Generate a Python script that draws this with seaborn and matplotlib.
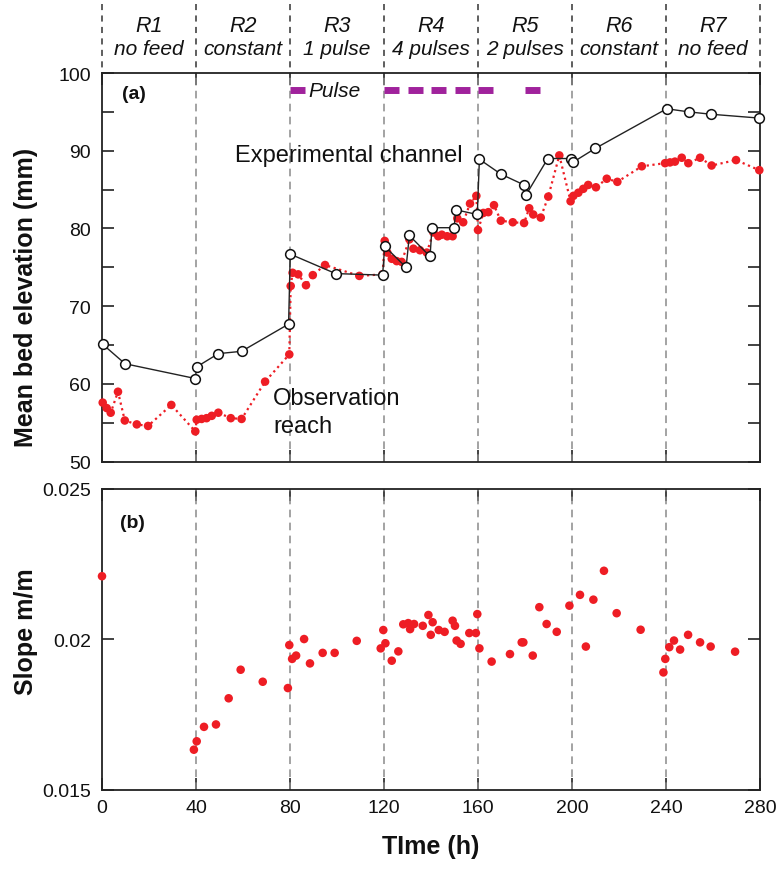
import matplotlib
matplotlib.use("Agg")
import matplotlib.pyplot as plt
from matplotlib import font_manager
import seaborn as sns
import numpy as np

# ---------------- data ----------------
run_bounds = [0, 40, 80, 120, 160, 200, 240, 280]
run_names = ["R1", "R2", "R3", "R4", "R5", "R6", "R7"]
run_feed = ["no feed", "constant", "1 pulse", "4 pulses", "2 pulses", "constant", "no feed"]

pulse_start = [80, 120, 130, 140, 150, 160, 180]
pulse_length = 6.5
pulse_level = 97.8

exp_t = [0.3, 9.8, 39.7, 40.3, 49.5, 59.4, 79.4, 80.1, 99.4, 119.4,
         120.3, 129.4, 130.8, 139.6, 140.4, 149.8, 150.6, 159.7, 160.6, 169.7,
         179.6, 180.4, 189.7, 199.4, 200.3, 209.9, 240.3, 249.7, 259.0, 279.7]
exp_z = [65.1, 62.6, 60.7, 62.2, 63.9, 64.2, 67.7, 76.7, 74.2, 74.0,
         77.7, 75.0, 79.1, 76.4, 80.1, 80.1, 82.4, 81.8, 88.9, 87.0,
         85.6, 84.3, 89.0, 89.0, 88.5, 90.3, 95.4, 95.0, 94.7, 94.2]

obs_t = [0.3, 2.0, 3.7, 6.8, 9.7, 14.8, 19.6, 29.5, 39.7, 40.3,
         42.4, 44.5, 46.7, 49.5, 54.8, 59.4, 69.4, 79.7, 80.3, 81.1,
         83.5, 86.8, 89.7, 94.9, 109.5, 119.4, 120.3, 121.4, 123.3, 125.4,
         127.5, 130.8, 132.5, 135.3, 138.2, 141.0, 143.1, 144.6, 146.9, 149.2,
         151.2, 153.7, 156.6, 159.3, 160.0, 162.3, 164.4, 166.8, 169.7, 174.8,
         179.6, 181.8, 183.5, 186.7, 189.9, 194.6, 199.4, 200.6, 202.7, 204.8,
         206.9, 210.2, 214.8, 219.3, 229.7, 239.6, 241.7, 243.8, 246.7, 249.5,
         254.5, 259.4, 269.8, 279.7]
obs_z = [57.6, 56.9, 56.3, 59.0, 55.3, 54.8, 54.6, 57.3, 53.9, 55.4,
         55.5, 55.6, 55.9, 56.3, 55.6, 55.5, 60.3, 63.8, 72.6, 74.3,
         74.1, 72.7, 74.0, 75.3, 73.9, 74.1, 78.4, 76.9, 76.1, 75.8,
         75.7, 78.6, 77.4, 77.2, 76.9, 79.5, 79.0, 79.2, 79.0, 79.0,
         81.3, 80.8, 83.2, 84.2, 79.8, 82.0, 82.1, 83.0, 81.0, 80.8,
         80.7, 82.6, 81.8, 81.4, 84.1, 89.4, 83.5, 84.2, 84.6, 85.1,
         85.6, 85.3, 86.4, 86.0, 88.0, 88.4, 88.5, 88.6, 89.1, 88.4,
         89.1, 88.1, 88.8, 87.5]

slope_t = [0, 39.1, 40.3, 43.4, 48.5, 53.9, 59.0, 68.4, 79.1, 79.7,
           80.9, 82.6, 86.0, 88.5, 93.9, 99.0, 108.4, 118.6, 119.7, 120.6,
           123.3, 126.1, 128.2, 130.3, 131.1, 132.8, 136.5, 138.9, 139.9, 140.7,
           143.3, 145.8, 149.2, 150.2, 150.9, 152.6, 156.3, 159.1, 159.7, 160.6,
           165.8, 173.6, 178.6, 179.3, 183.3, 186.1, 189.2, 193.5, 198.9, 203.4,
           205.9, 209.1, 213.6, 219.0, 229.2, 238.9, 239.7, 241.4, 243.4, 246.0,
           249.4, 254.5, 259.0, 269.4]
slope = [0.0221, 0.01633, 0.01661, 0.01709, 0.01717, 0.01804, 0.01899, 0.01859, 0.01838, 0.01981,
         0.01935, 0.01946, 0.02001, 0.0192, 0.01955, 0.01955, 0.01995, 0.0197, 0.02031, 0.01987,
         0.01929, 0.0196, 0.0205, 0.02054, 0.02034, 0.02051, 0.02045, 0.02081, 0.02015, 0.02057,
         0.02031, 0.02025, 0.02062, 0.02045, 0.01996, 0.01985, 0.02021, 0.02021, 0.02084, 0.0197,
         0.01926, 0.01951, 0.0199, 0.0199, 0.01946, 0.02107, 0.02051, 0.02025, 0.02112, 0.02148,
         0.01976, 0.02132, 0.02228, 0.02087, 0.02032, 0.0189, 0.01935, 0.01974, 0.01996, 0.01966,
         0.02015, 0.0199, 0.01976, 0.01959]

elev_ticks = [50, 60, 70, 80, 90, 100]
slope_ticks = [0.015, 0.02, 0.025]
slope_ticklabels = ["0.015", "0.02", "0.025"]
time_ticks = [0, 40, 80, 120, 160, 200, 240, 280]

# ---------------- style ----------------
sns.set_theme(style="ticks")
names = {f.name for f in font_manager.fontManager.ttflist}
narrow = "Liberation Sans Narrow" if "Liberation Sans Narrow" in names else "Liberation Sans"
plt.rcParams["font.family"] = ["Liberation Sans", "DejaVu Sans"]
plt.rcParams["axes.linewidth"] = 1.3
plt.rcParams["axes.edgecolor"] = "#222222"

RED = "#ee1d24"
MAG = "#a0229c"
GRAY = "#8a8a8a"
TXT = "#111111"

W, H = 777, 870
fig = plt.figure(figsize=(W / 100, H / 100), dpi=100)

def frac_rect(left, top, right, bottom):
    return [left / W, 1 - bottom / H, (right - left) / W, (bottom - top) / H]

L, R = 102, 760
ax_hdr = fig.add_axes(frac_rect(L, 0, R, 74), zorder=0)
ax1 = fig.add_axes(frac_rect(L, 74, R, 462.7), zorder=2)
ax2 = fig.add_axes(frac_rect(L, 490, R, 790.7), zorder=2)

# ---------------- header ----------------
ax_hdr.set_xlim(0, 280)
ax_hdr.set_ylim(74, 0)
ax_hdr.axis("off")
ax_hdr.patch.set_alpha(0)
for b in run_bounds:
    ax_hdr.plot([b, b], [5, 74], color="#333333", lw=1.1, ls=(0, (4, 3.5)), clip_on=False)
for i, (nm, fd) in enumerate(zip(run_names, run_feed)):
    xc = 0.5 * (run_bounds[i] + run_bounds[i + 1])
    ax_hdr.text(xc, 32, nm, ha="center", va="baseline", fontsize=15.5,
                style="italic", family=[narrow, "DejaVu Sans"], color=TXT)
    ax_hdr.text(xc, 55, fd, ha="center", va="baseline", fontsize=15,
                style="italic", family=[narrow, "DejaVu Sans"], color=TXT)

# ---------------- panels ----------------
for ax in (ax1, ax2):
    ax.set_xlim(0, 280)
    ax.patch.set_alpha(0)
    for b in run_bounds[1:-1]:
        ax.axvline(b, color=GRAY, lw=1.1, ls=(0, (5, 3.5)), zorder=1)
    ax.set_xticks(time_ticks)
    ax.tick_params(which="both", direction="in", length=8.6, width=1.2,
                   top=True, right=True, labelsize=14, colors="#222222",
                   labelcolor=TXT, pad=8)

# ---------------- panel (a) ----------------
ax1.set_ylim(50, 100)
ax1.set_yticks(elev_ticks)
ax1.set_yticks(np.arange(55, 100, 10), minor=True)
ax1.tick_params(axis="x", labelbottom=False)

sns.lineplot(x=obs_t, y=obs_z, estimator=None, sort=False, ax=ax1,
             color=RED, lw=1.6, ls=(0, (1, 1.6)), zorder=2)
sns.scatterplot(x=obs_t, y=obs_z, ax=ax1, color=RED, s=38, edgecolor="none",
                zorder=3, clip_on=False)
sns.lineplot(x=exp_t, y=exp_z, estimator=None, sort=False, ax=ax1,
             color="#222222", lw=1.0, marker="o", markersize=7,
             markerfacecolor="white", markeredgecolor="#111111",
             markeredgewidth=1.1, zorder=4, clip_on=False)

for s0 in pulse_start:
    ax1.plot([s0, s0 + pulse_length], [pulse_level, pulse_level],
             color=MAG, lw=5, solid_capstyle="butt", zorder=3)
ax1.text(pulse_start[0] + pulse_length + 1.5, pulse_level, "Pulse", ha="left",
         va="center", fontsize=15, style="italic", family=[narrow, "DejaVu Sans"],
         color=TXT)

ax1.text(0.030, 0.946, "(a)", transform=ax1.transAxes, ha="left", va="center",
         fontsize=14, fontweight="bold", color=TXT)
ax1.text(0.202, 0.7736, "Experimental channel", transform=ax1.transAxes,
         ha="left", va="baseline", fontsize=17, color=TXT)
ax1.text(0.26, 0.1484, "Observation", transform=ax1.transAxes,
         ha="left", va="baseline", fontsize=17, color=TXT)
ax1.text(0.26, 0.0764, "reach", transform=ax1.transAxes,
         ha="left", va="baseline", fontsize=17, color=TXT)
ax1.set_ylabel("")
ax1.set_xlabel("")
fig.text(14 / W, 1 - 297 / H, "Mean bed elevation (mm)", rotation=90,
         ha="left", va="center", fontsize=18, fontweight="bold", color=TXT)

# ---------------- panel (b) ----------------
ax2.set_ylim(0.015, 0.025)
ax2.set_yticks(slope_ticks)
ax2.set_yticklabels(slope_ticklabels)
ax2.tick_params(axis="x", pad=7)
sns.scatterplot(x=slope_t, y=slope, ax=ax2, color=RED, s=38, edgecolor="none",
                zorder=3, clip_on=False)
ax2.text(0.027, 0.887, "(b)", transform=ax2.transAxes, ha="left", va="center",
         fontsize=14, fontweight="bold", color=TXT)
ax2.set_ylabel("")
fig.text(14 / W, 1 - 632 / H, "Slope m/m", rotation=90,
         ha="left", va="center", fontsize=18, fontweight="bold", color=TXT)
ax2.set_xlabel("TIme (h)", fontsize=18, fontweight="bold", color=TXT)
ax2.xaxis.set_label_coords(0.5, -0.147)

for ax in (ax1, ax2):
    for sp in ax.spines.values():
        sp.set_visible(True)

fig.savefig("out.png", dpi=100)
